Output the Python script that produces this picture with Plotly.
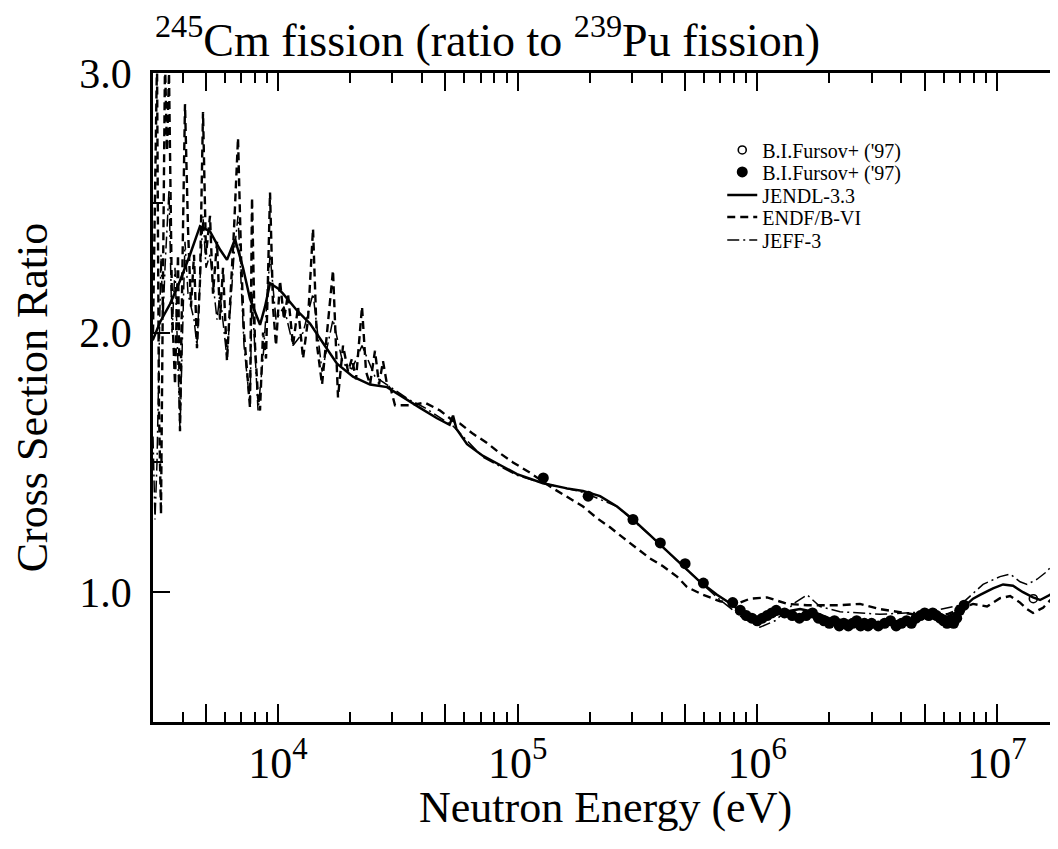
import numpy as np
import plotly.graph_objects as go

# ---------------- data ----------------
# JENDL-3.3 (solid)
jendl_e = [3000, 3218, 3542, 3899, 4292, 4590, 4726, 5202, 5726, 6125, 6614, 7144, 7641,
           8174, 8413, 8826, 9262, 10000, 10493, 12003, 13601, 15410, 17630, 20560, 24210,
           28510, 33240, 39140, 46090, 52000, 53760, 55500, 61490, 71720, 84450, 99430, 127600,
           160800, 187500, 220800, 260000, 303100, 356900, 420300, 490100, 577200, 679500,
           792500, 872400, 951000, 998000, 1099000, 1306000, 1509000, 1710000, 1994000,
           2560000, 3254000, 4342000, 5015000, 5417000, 6196000, 7022000, 7957000, 8510000,
           9640000, 10620000, 11680000, 12860000, 14160000, 15150000, 16670000, 18000000, 20000000]
jendl_r = [1.97, 2.04, 2.11, 2.20, 2.30, 2.38, 2.41, 2.39, 2.32, 2.28, 2.36, 2.25, 2.13,
           2.06, 2.03, 2.10, 2.19, 2.17, 2.15, 2.085, 2.035, 1.96, 1.88, 1.83, 1.80,
           1.79, 1.75, 1.71, 1.67, 1.645, 1.68, 1.63, 1.57, 1.525, 1.49, 1.455, 1.42,
           1.40, 1.39, 1.37, 1.33, 1.28, 1.22, 1.16, 1.10, 1.04, 0.99,
           0.95, 0.915, 0.895, 0.89, 0.90, 0.925, 0.935, 0.925, 0.90,
           0.885, 0.88, 0.895, 0.905, 0.925, 0.905, 0.93, 0.975, 0.99,
           1.015, 1.03, 1.025, 1.00, 0.98, 0.97, 0.99, 1.015, 1.04]

# ENDF/B-VI (dashed)
endf_e = [3008, 3066, 3126, 3186, 3248, 3311, 3376, 3441, 3508, 3611, 3717, 3825, 3899,
          4013, 4091, 4211, 4334, 4461, 4590, 4726, 4864, 5006, 5202, 5354, 5564, 5726,
          5895, 6125, 6305, 6553, 6809, 7008, 7213, 7424, 7641, 7790, 8017, 8253, 8413,
          8659, 8912, 9262, 9530, 9810, 10193, 10593, 11008, 11550, 12120, 12720, 13340,
          14000, 14550, 15270, 16020, 16960, 17800, 18680, 19600, 20360, 21160, 22420,
          23300, 24210, 25400, 26400, 27430, 28510, 29620, 30780, 35560, 41070, 47450,
          53760, 57480, 65170, 74530, 84450, 95680, 112700, 140500, 165500, 187500, 214500,
          243000, 275400, 315000, 356900, 404500, 462800, 509300, 594000, 699500, 823600,
          933000, 1099000, 1332000, 1614000, 2216000, 2685000, 3254000, 4470000, 6196000,
          7957000, 9100000, 10310000, 11360000, 12500000, 13370000, 14160000, 15590000,
          18000000, 20000000]
endf_r = [2.00, 2.60, 3.05, 1.70, 1.30, 2.20, 3.05, 2.70, 3.00, 2.10, 1.80, 2.30, 1.62,
          2.40, 2.88, 2.40, 2.10, 2.30, 1.94, 2.20, 2.85, 2.30, 2.45, 2.15, 2.35, 2.05,
          2.25, 1.89, 2.10, 2.40, 2.75, 2.30, 2.00, 1.85, 1.71, 2.52, 1.95, 1.75, 1.70,
          2.00, 1.90, 2.54, 2.10, 1.95, 2.20, 2.05, 2.15, 1.95, 2.10, 1.90, 2.05,
          2.40, 1.95, 1.80, 2.00, 2.24, 1.75, 1.95, 1.85, 1.90, 1.82, 2.10,
          1.85, 1.80, 1.93, 1.80, 1.89, 1.80, 1.78, 1.72, 1.72, 1.73, 1.70,
          1.66, 1.65, 1.61, 1.575, 1.535, 1.50, 1.46, 1.40, 1.36, 1.33, 1.285,
          1.25, 1.21, 1.17, 1.13, 1.10, 1.06, 1.02, 0.99, 0.965, 0.955,
          0.975, 0.98, 0.955, 0.95, 0.95, 0.955, 0.935, 0.915, 0.915,
          0.955, 0.945, 0.977, 0.985, 0.96, 0.935, 0.92, 0.94,
          1.00, 1.03]

# JEFF-3 (dash-dot)
jeff_e = [3008, 3066, 3126, 3186, 3248, 3311, 3376, 3508, 3611, 3717, 3899, 4091, 4211,
          4461, 4590, 4864, 5006, 5202, 5564, 5726, 6125, 6553, 6809, 7213, 7641, 7790,
          8253, 8659, 9262, 9810, 10593, 11550, 12720, 14000, 15270, 16960, 18680, 20360,
          22420, 25400, 29620, 35560, 41070, 53760, 71720, 99430, 127600, 187500, 260000,
          356900, 490100, 679500, 872400, 1027000, 1187000, 1438000, 1614000, 1829000,
          2216000, 3254000, 5263000, 7022000, 8758000, 10310000, 11360000, 12500000,
          13370000, 14720000, 16200000, 17840000, 20000000]
jeff_r = [1.60, 1.28, 1.50, 1.85, 2.30, 2.05, 2.25, 2.55, 2.00, 2.25, 1.62, 2.35, 2.15,
          2.05, 1.95, 2.45, 2.25, 2.30, 2.05, 2.15, 1.90, 2.30, 2.45, 1.95, 1.72, 2.15,
          1.70, 1.90, 2.30, 2.05, 2.10, 1.95, 2.00, 2.15, 1.85, 2.05, 1.88, 1.86,
          1.95, 1.83, 1.79, 1.74, 1.71, 1.64, 1.52, 1.45, 1.42, 1.385, 1.33,
          1.22, 1.10, 0.98, 0.90, 0.865, 0.89, 0.96, 0.99, 0.945,
          0.925, 0.915, 0.925, 0.95, 1.03, 1.06, 1.07, 1.04,
          1.03, 1.05, 1.08, 1.13, 1.18]

# B.I.Fursov+ ('97), filled symbols
fursov_e = [128000, 197000, 303000, 394000, 500000, 596000, 790000, 850000, 900000, 950000,
            1000000, 1050000, 1100000, 1150000, 1200000, 1300000, 1400000, 1500000, 1600000,
            1700000, 1800000, 1900000, 2000000, 2100000, 2200000, 2300000, 2400000, 2500000,
            2600000, 2700000, 2800000, 2900000, 3000000, 3200000, 3400000, 3600000, 3800000,
            4000000, 4200000, 4400000, 4600000, 4800000, 5000000, 5200000, 5400000, 5600000,
            5800000, 6000000, 6200000, 6400000, 6600000, 6800000, 7000000, 7300000]
fursov_r = [1.44, 1.37, 1.28, 1.19, 1.11, 1.035, 0.96, 0.93, 0.91, 0.90,
            0.89, 0.90, 0.91, 0.92, 0.93, 0.92, 0.91, 0.90, 0.91,
            0.92, 0.90, 0.89, 0.88, 0.89, 0.87, 0.88, 0.87, 0.88,
            0.89, 0.87, 0.88, 0.87, 0.88, 0.87, 0.88, 0.89, 0.87,
            0.88, 0.89, 0.88, 0.90, 0.91, 0.92, 0.91, 0.92, 0.91,
            0.90, 0.89, 0.88, 0.89, 0.88, 0.90, 0.93, 0.95]

# B.I.Fursov+ ('97), open symbols
fursov_open_e = [14200000]
fursov_open_r = [0.975]

# axis ticks
x_major = [5e3, 1e4, 5e4, 1e5, 5e5, 1e6, 5e6, 1e7]
x_major_text = ["", "10<sup>4</sup>", "", "10<sup>5</sup>", "", "10<sup>6</sup>", "", "10<sup>7</sup>"]
x_minor = [4e3, 6e3, 7e3, 8e3, 9e3, 2e4, 3e4, 4e4, 6e4, 7e4, 8e4, 9e4,
           2e5, 3e5, 4e5, 6e5, 7e5, 8e5, 9e5, 2e6, 3e6, 4e6, 6e6, 7e6, 8e6, 9e6]
y_major = [1.0, 2.0, 3.0]
y_major_text = ["1.0", "2.0", "3.0"]
y_minor = [1.5, 2.5]

FONT = "Liberation Serif"
X_RANGE = [np.log10(3008), np.log10(1.8e7)]
Y_RANGE = [0.5, 3.0]

# one legend per entry so the rows can sit as tightly as in the original
LEG_X = 0.629
LEG_Y = [0.8814, 0.8475, 0.8120, 0.7781, 0.7427]
LEG_FONT = dict(family=FONT, size=20, color="black")


def leg(i):
    return dict(x=LEG_X, y=LEG_Y[i], xanchor="left", yanchor="middle",
                bgcolor="rgba(0,0,0,0)", borderwidth=0, font=LEG_FONT)


fig = go.Figure()
fig.add_trace(go.Scatter(x=fursov_open_e, y=fursov_open_r, yaxis="y2", mode="markers",
                         name="B.I.Fursov+ ('97)", legend="legend",
                         marker=dict(symbol="circle-open", size=8, color="black",
                                     line=dict(width=1.6, color="black"))))
fig.add_trace(go.Scatter(x=fursov_e, y=fursov_r, mode="markers", name="B.I.Fursov+ ('97)",
                         legend="legend2",
                         marker=dict(symbol="circle", size=11, color="black")))
fig.add_trace(go.Scatter(x=jendl_e, y=jendl_r, mode="lines", name="JENDL-3.3",
                         legend="legend3",
                         line=dict(color="black", width=2.5)))
fig.add_trace(go.Scatter(x=endf_e, y=endf_r, mode="lines", name="ENDF/B-VI",
                         legend="legend4",
                         line=dict(color="black", width=2.4, dash="8px,5px")))
fig.add_trace(go.Scatter(x=jeff_e, y=jeff_r, mode="lines", name="JEFF-3",
                         legend="legend5",
                         line=dict(color="black", width=1.5, dash="12px,4px,2px,4px")))

fig.update_layout(
    width=1050, height=841,
    margin=dict(l=145, r=0, t=65, b=127),
    paper_bgcolor="white", plot_bgcolor="white",
    font=dict(family=FONT, color="black"),
    showlegend=True,
    legend=leg(0), legend2=leg(1), legend3=leg(2), legend4=leg(3), legend5=leg(4),
    xaxis=dict(type="log", range=X_RANGE, showline=True, linewidth=2.5, linecolor="black",
               mirror="ticks", ticks="inside", ticklen=18, tickwidth=2, tickcolor="black",
               tickmode="array", tickvals=x_major, ticktext=x_major_text,
               tickfont=dict(family=FONT, size=44, color="black"),
               showgrid=False, zeroline=False,
               minor=dict(ticks="inside", ticklen=10, tickwidth=2, tickcolor="black",
                          tickmode="array", tickvals=x_minor, showgrid=False)),
    yaxis=dict(range=Y_RANGE, showline=True, linewidth=2.5, linecolor="black", mirror=False,
               ticks="inside", ticklen=17, tickwidth=2, tickcolor="black",
               tickmode="array", tickvals=y_major, ticktext=y_major_text,
               tickfont=dict(family=FONT, size=42, color="black"), ticklabelstandoff=10,
               showgrid=False, zeroline=False,
               minor=dict(ticks="inside", ticklen=10, tickwidth=2, tickcolor="black",
                          tickmode="array", tickvals=y_minor, showgrid=False),
               title=dict(text="Cross Section Ratio", font=dict(family=FONT, size=44, color="black"),
                          standoff=22)),
    yaxis2=dict(range=Y_RANGE, overlaying="y", side="right", anchor="x", showline=False,
                ticks="inside", ticklen=7, tickwidth=2, tickcolor="black",
                tickmode="array", tickvals=y_major, showticklabels=False,
                showgrid=False, zeroline=False),
    annotations=[
        dict(text="<sup>245</sup>Cm fission (ratio to <sup>239</sup>Pu fission)",
             xref="paper", yref="paper", x=0, y=1, xanchor="left", yanchor="bottom",
             yshift=5, showarrow=False,
             font=dict(family=FONT, size=46, color="black")),
        dict(text="Neutron Energy (eV)", xref="paper", yref="paper", x=0.5, y=0,
             xanchor="center", yanchor="middle", yshift=-85, showarrow=False,
             font=dict(family=FONT, size=44, color="black")),
    ],
)

fig.write_html("out.html")
